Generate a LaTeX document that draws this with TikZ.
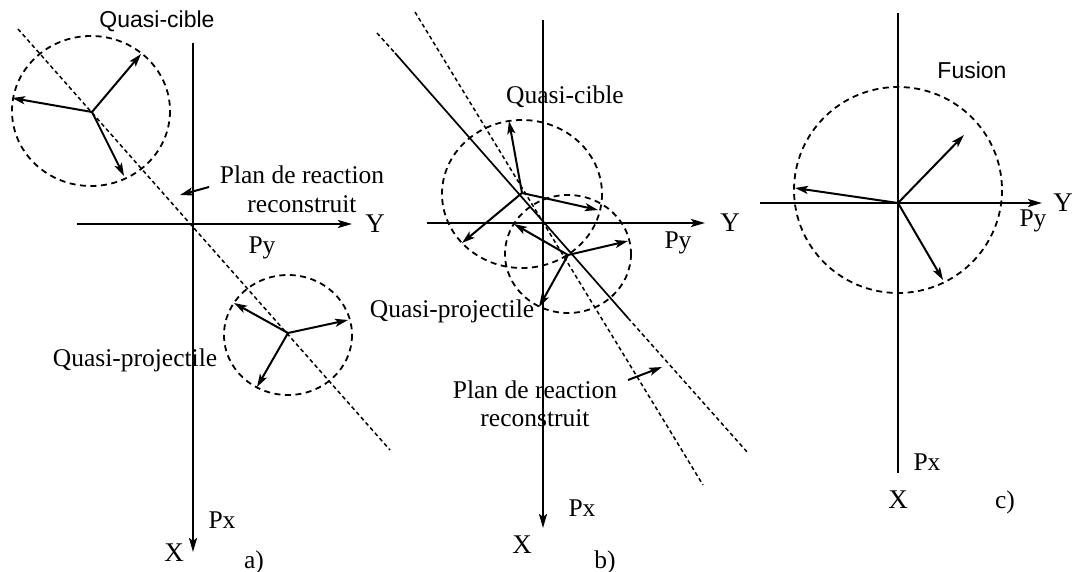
\documentclass[tikz,border=0pt]{standalone}
\usepackage{fontspec}
\setmainfont{Liberation Serif}
\setsansfont{Liberation Sans}
\usetikzlibrary{arrows.meta}
\begin{document}
\begin{tikzpicture}[x=1pt,y=-1pt,
  axis/.style={line width=2.2pt,-{Stealth[length=14pt,width=8pt,inset=3pt]}},
  plainaxis/.style={line width=2.2pt},
  vec/.style={line width=2pt,-{Stealth[length=13pt,width=8pt,inset=3pt]}},
  dcirc/.style={line width=1.8pt,dash pattern=on 6pt off 4.5pt},
  dline/.style={line width=1.5pt,dash pattern=on 4pt off 3pt},
  sline/.style={line width=1.7pt},
  lbl/.style={inner sep=0pt,font=\fontsize{25.5}{28}\selectfont},
  slbl/.style={inner sep=0pt,font=\sffamily\fontsize{23}{26}\selectfont},
  axl/.style={inner sep=0pt,font=\fontsize{27}{30}\selectfont}]
\useasboundingbox (0,0) rectangle (1075,572);
% ---------------- panel a ----------------
\coordinate (aL) at (77,224); \coordinate (aR) at (352,224);
\coordinate (aT) at (193,43); \coordinate (aB) at (193,552);
\draw[axis] (aL) -- (aR);
\draw[axis] (aT) -- (aB);
\coordinate (aD1) at (18,29); \coordinate (aD2) at (390,450);
\draw[dline] (aD1) -- (aD2);
\node[axl] (aY) at (375,224) {Y};
\node[lbl] (aPy) at (262,248) {Py};
\node[axl] (aX) at (174,553) {X};
\node[lbl] (aPx) at (222,520) {Px};
\node[lbl] (alab) at (254,562) {a)};
\node[slbl] (aQC) at (157,21) {Quasi-cible};
\node[lbl] (aQP) at (135,360) {Quasi-projectile};
\node[lbl] (aPl1) at (302,175) {Plan de reaction};
\node[lbl] (aPl2) at (302,204) {reconstruit};
\coordinate (aPs) at (209,187); \coordinate (aPe) at (180,195);
\draw[vec] (aPs) -- (aPe);
% circle 1
\draw[dcirc] (91,111) ellipse [x radius=79,y radius=75];
\coordinate (a1) at (92,112);
\coordinate (a1t1) at (141,54); \coordinate (a1t2) at (12,98); \coordinate (a1t3) at (124,176);
\draw[vec] (a1) -- (a1t1);
\draw[vec] (a1) -- (a1t2);
\draw[vec] (a1) -- (a1t3);
% circle 2
\draw[dcirc] (288,335) ellipse [x radius=64,y radius=60];
\coordinate (a2) at (288,333);
\coordinate (a2t1) at (234,303); \coordinate (a2t2) at (348,320); \coordinate (a2t3) at (257,387);
\draw[vec] (a2) -- (a2t1);
\draw[vec] (a2) -- (a2t2);
\draw[vec] (a2) -- (a2t3);
% ---------------- panel b ----------------
\coordinate (bL) at (427,223); \coordinate (bR) at (705,223);
\coordinate (bT) at (543,20); \coordinate (bB) at (543,528);
\draw[axis] (bL) -- (bR);
\draw[axis] (bT) -- (bB);
\coordinate (bS1) at (377,33); \coordinate (bS2) at (395,53);
\coordinate (bS3) at (628,318); \coordinate (bS4) at (748,453);
\draw[dline] (bS1) -- (bS2);
\draw[sline] (bS2) -- (bS3);
\draw[dline] (bS3) -- (bS4);
\coordinate (bD1) at (415,12); \coordinate (bD2) at (703,485);
\draw[dline] (bD1) -- (bD2);
\node[axl] (bY) at (730,223) {Y};
\node[lbl] (bPy) at (678,243) {Py};
\node[axl] (bX) at (522,545) {X};
\node[lbl] (bPx) at (582,508) {Px};
\node[lbl] (blab) at (605,562) {b)};
\node[lbl] (bQC) at (565,97) {Quasi-cible};
\node[lbl] (bQP) at (452,311) {Quasi-projectile};
\node[lbl] (bPl1) at (535,390) {Plan de reaction};
\node[lbl] (bPl2) at (535,418) {reconstruit};
\coordinate (bPs) at (628,380); \coordinate (bPe) at (662,367);
\draw[vec] (bPs) -- (bPe);
% big circle
\draw[dcirc] (522,194) ellipse [x radius=80,y radius=74];
\coordinate (b1) at (522,193);
\coordinate (b1t1) at (509,121); \coordinate (b1t2) at (598,210); \coordinate (b1t3) at (462,243);
\draw[vec] (b1) -- (b1t1);
\draw[vec] (b1) -- (b1t2);
\draw[vec] (b1) -- (b1t3);
% small circle
\draw[dcirc] (568,254) ellipse [x radius=63,y radius=59];
\coordinate (b2) at (568,255);
\coordinate (b2t1) at (514,224); \coordinate (b2t2) at (628,241); \coordinate (b2t3) at (539,307);
\draw[vec] (b2) -- (b2t1);
\draw[vec] (b2) -- (b2t2);
\draw[vec] (b2) -- (b2t3);
% ---------------- panel c ----------------
\coordinate (cL) at (760,203); \coordinate (cR) at (1042,203);
\coordinate (cT) at (898,13); \coordinate (cB) at (898,473);
\draw[axis] (cL) -- (cR);
\draw[plainaxis] (cT) -- (cB);
\node[axl] (cY) at (1063,203) {Y};
\node[lbl] (cPy) at (1033,221) {Py};
\node[axl] (cX) at (898,500) {X};
\node[lbl] (cPx) at (927,462) {Px};
\node[lbl] (clab) at (1005,502) {c)};
\node[slbl] (cF) at (972,70) {Fusion};
\draw[dcirc] (898,190) ellipse [x radius=104,y radius=103];
\coordinate (c0) at (898,203);
\coordinate (ct1) at (964,135); \coordinate (ct2) at (795,188); \coordinate (ct3) at (943,280);
\draw[vec] (c0) -- (ct1);
\draw[vec] (c0) -- (ct2);
\draw[vec] (c0) -- (ct3);
\end{tikzpicture}
\end{document}
